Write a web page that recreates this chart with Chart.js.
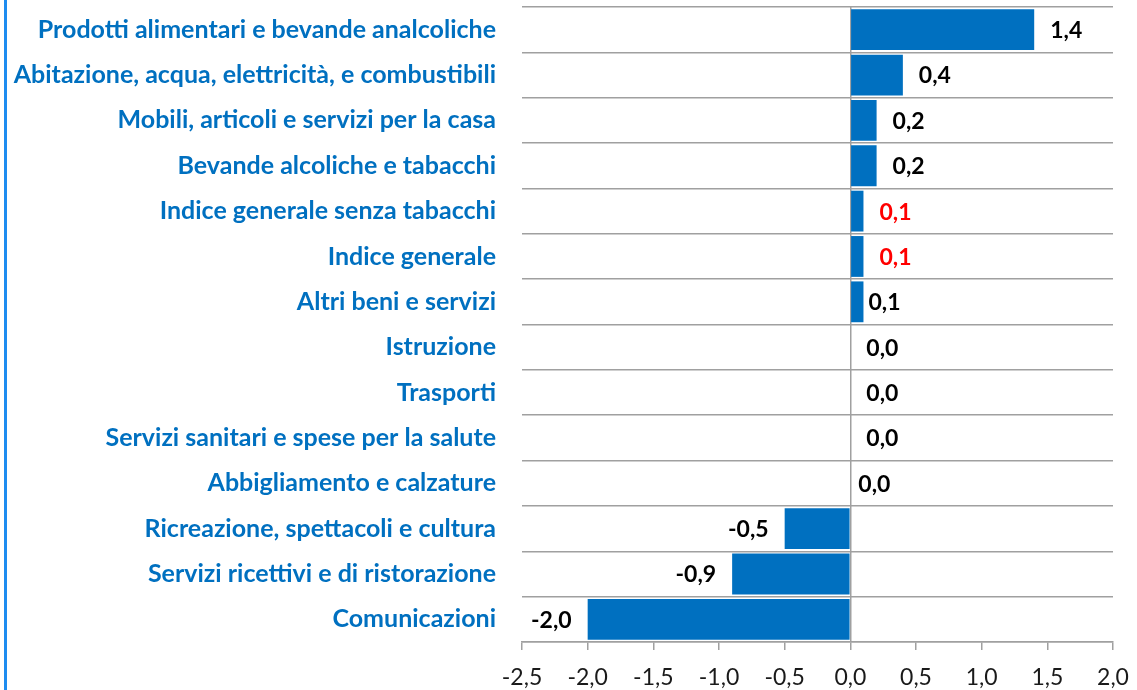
<!DOCTYPE html>
<html>
<head>
<meta charset="utf-8">
<script src="https://cdn.jsdelivr.net/npm/chart.js@4.4.1/dist/chart.umd.min.js"></script>
<style>
    body { margin: 0; background: #fff; }
    canvas { display: block; }
</style>
</head>
<body>
<canvas id="myChart" width="1137" height="690"></canvas>
<script>
// categories, top to bottom
const categories = [
    "Prodotti alimentari e bevande analcoliche",
    "Abitazione, acqua, elettricità, e combustibili",
    "Mobili, articoli e servizi per la casa",
    "Bevande alcoliche e tabacchi",
    "Indice generale senza tabacchi",
    "Indice generale",
    "Altri beni e servizi",
    "Istruzione",
    "Trasporti",
    "Servizi sanitari e spese per la salute",
    "Abbigliamento e calzature",
    "Ricreazione, spettacoli e cultura",
    "Servizi ricettivi e di ristorazione",
    "Comunicazioni",
];
const values = [1.4, 0.4, 0.2, 0.2, 0.1, 0.1, 0.1, 0.0, 0.0, 0.0, 0.0, -0.5, -0.9, -2.0];
const highlighted = ["Indice generale senza tabacchi", "Indice generale"];
const xTicks = [-2.5, -2.0, -1.5, -1.0, -0.5, 0.0, 0.5, 1.0, 1.5, 2.0];

const BLUE = "#0070C0";
const GRID = "#a0a0a0";
const FONT = "Lato, 'Open Sans', sans-serif";

// small nudges for labels that were moved by hand in the original
const labelNudge = { 6: -11, 10: -8 };

const fmt = (v) => v.toFixed(1).replace(".", ",");

const valueLabels = {
    id: "valueLabels",
    afterDatasetsDraw(chart) {
        const ctx = chart.ctx;
        const meta = chart.getDatasetMeta(0);
        ctx.save();
        ctx.font = "bold 23px " + FONT;
        ctx.textBaseline = "middle";
        meta.data.forEach((bar, i) => {
            const v = values[i];
            const nudge = labelNudge[i] || 0;
            ctx.fillStyle = highlighted.includes(categories[i]) ? "#FF0000" : "#000000";
            if (v < 0) {
                ctx.textAlign = "right";
                ctx.fillText(fmt(v), Math.min(bar.x, bar.base) - 16 + nudge, bar.y + 1);
            } else {
                ctx.textAlign = "left";
                ctx.fillText(fmt(v), Math.max(bar.x, bar.base) + 16 + nudge, bar.y + 1);
            }
        });
        ctx.restore();
    },
};

const leftFrame = {
    id: "leftFrame",
    beforeDraw(chart) {
        const ctx = chart.ctx;
        ctx.save();
        ctx.fillStyle = "#1E8CF0";
        ctx.fillRect(4, 0, 3, chart.height);
        ctx.restore();
    },
};

new Chart(document.getElementById("myChart"), {
    type: "bar",
    data: {
        labels: categories,
        datasets: [
            {
                data: values,
                backgroundColor: BLUE,
                borderWidth: 0,
                barPercentage: 0.9,
                categoryPercentage: 1.0,
            },
        ],
    },
    options: {
        indexAxis: "y",
        responsive: false,
        animation: false,
        layout: { padding: { top: 7, right: 24, left: 0, bottom: 0 } },
        plugins: {
            legend: { display: false },
            tooltip: { enabled: false },
        },
        scales: {
            x: {
                min: -2.5,
                max: 2.0,
                afterBuildTicks: (scale) => {
                    scale.ticks = xTicks.map((v) => ({ value: v }));
                },
                afterFit: (scale) => {
                    scale.height = 48;
                    scale.paddingLeft = 0;
                    scale.paddingRight = 0;
                },
                grid: {
                    color: (c) => (c.tick && c.tick.value === 0 ? GRID : "transparent"),
                    lineWidth: 1.5,
                    tickColor: GRID,
                    tickLength: 8,
                },
                border: { display: true, color: GRID, width: 1.5 },
                ticks: {
                    color: "#1a1a1a",
                    font: { family: FONT, size: 23 },
                    padding: 14,
                    maxRotation: 0,
                    callback: (v) => fmt(v),
                },
            },
            y: {
                afterFit: (scale) => {
                    scale.width = 522;
                    scale.paddingTop = 0;
                    scale.paddingBottom = 0;
                },
                grid: {
                    color: GRID,
                    lineWidth: 1.5,
                    drawTicks: false,
                    offset: true,
                },
                border: { display: false },
                ticks: {
                    color: BLUE,
                    font: { family: FONT, size: 25, weight: "bold" },
                    padding: 26,
                    autoSkip: false,
                },
            },
        },
    },
    plugins: [valueLabels, leftFrame],
});
</script>
</body>
</html>
